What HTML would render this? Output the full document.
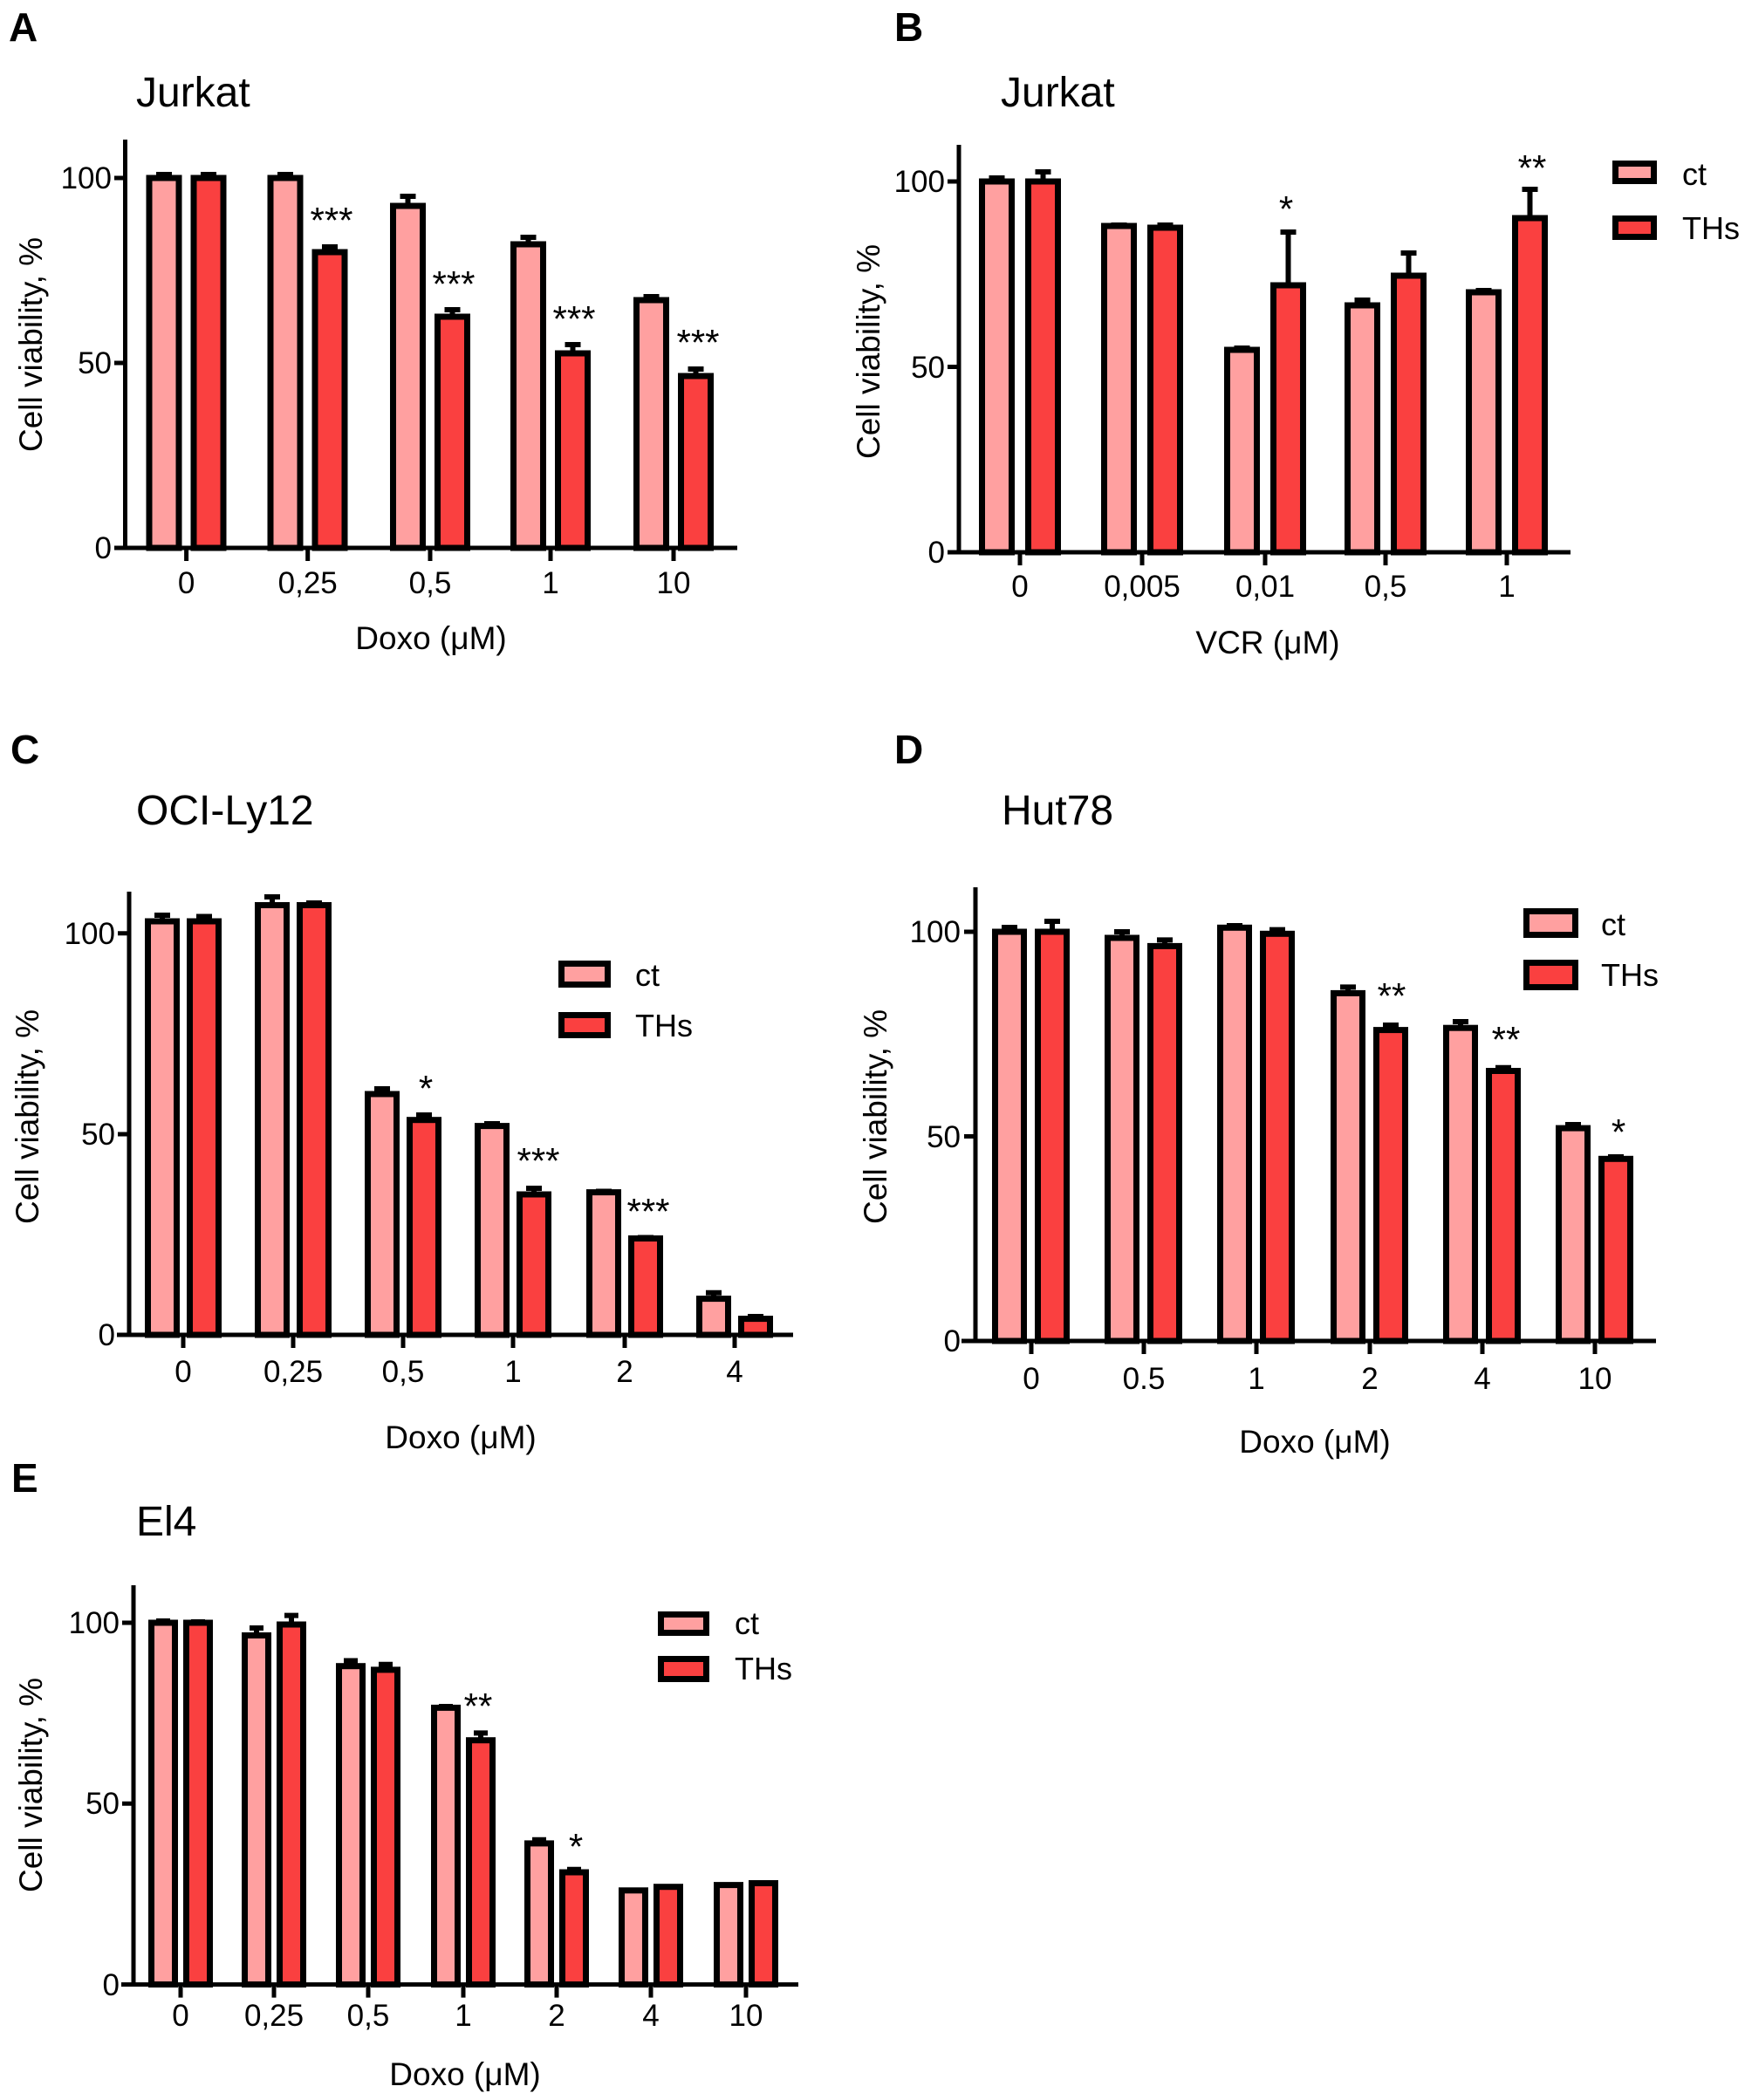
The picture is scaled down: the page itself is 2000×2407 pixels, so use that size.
<!DOCTYPE html>
<html><head><meta charset="utf-8"><style>
html,body{margin:0;padding:0;background:#fff}
svg{display:block}
text{font-family:"Liberation Sans",Arial,sans-serif;fill:#000}
.c{fill:#ffa0a0;stroke:#000;stroke-width:7}
.t{fill:#fa4040;stroke:#000;stroke-width:7}
.e{stroke:#000;stroke-width:6;fill:none}
.ax{stroke:#000;stroke-width:5;fill:none}
.tk{font-size:35px}
.ti{font-size:48px}
.lt{font-size:46px;font-weight:bold}
.xl{font-size:37px}
.lg{font-size:36px}
.st{font-size:42px}
</style></head><body>
<svg width="2000" height="2407" viewBox="0 0 2000 2407" xmlns="http://www.w3.org/2000/svg">

<!-- ================= A ================= -->
<text class="lt" x="10" y="47">A</text>
<text class="ti" x="156" y="122">Jurkat</text>
<path class="ax" d="M143.5 160V628M131 628H845M143.5 204H131M143.5 416H131M213.6 628v15M352.7 628v15M493 628v15M631 628v15M772 628v15"/>
<g class="tk" text-anchor="end"><text x="128" y="216">100</text><text x="128" y="428">50</text><text x="128" y="640">0</text></g>
<g class="tk" text-anchor="middle"><text x="213.6" y="680">0</text><text x="352.7" y="680">0,25</text><text x="493" y="680">0,5</text><text x="631" y="680">1</text><text x="772" y="680">10</text></g>
<text class="xl" x="494" y="744" text-anchor="middle">Doxo (μM)</text>
<text class="xl" transform="translate(48,395) rotate(-90)" text-anchor="middle">Cell viability, %</text>
<path class="e" d="M188 204V200M179 200h18M327 204V200M318 200h18M467.5 236V225M458.5 225h18M605.5 280V272M596.5 272h18M746.5 344V340M737.5 340h18M239 204V200M230 200h18M378 289V283M369 283h18M518.5 363V355M509.5 355h18M656.5 405V395M647.5 395h18M797.5 431V423M788.5 423h18"/>
<rect class="c" x="171" y="204" width="34" height="424"/>
<rect class="c" x="310" y="204" width="34" height="424"/>
<rect class="c" x="450.5" y="236" width="34" height="392"/>
<rect class="c" x="588.5" y="280" width="34" height="348"/>
<rect class="c" x="729.5" y="344" width="34" height="284"/>
<rect class="t" x="222" y="204" width="34" height="424"/>
<rect class="t" x="361" y="289" width="34" height="339"/>
<rect class="t" x="501.5" y="363" width="34" height="265"/>
<rect class="t" x="639.5" y="405" width="34" height="223"/>
<rect class="t" x="780.5" y="431" width="34" height="197"/>
<g class="st" text-anchor="middle"><text x="380" y="267">***</text><text x="520" y="340">***</text><text x="658" y="380">***</text><text x="800" y="407">***</text></g>

<!-- ================= B ================= -->
<text class="lt" x="1025" y="47">B</text>
<text class="ti" x="1147" y="122">Jurkat</text>
<path class="ax" d="M1099 166V633M1086 633H1800M1099 208H1086M1099 420.5H1086M1169 633v15M1309 633v15M1450 633v15M1588 633v15M1727 633v15"/>
<g class="tk" text-anchor="end"><text x="1083" y="220">100</text><text x="1083" y="433">50</text><text x="1083" y="645">0</text></g>
<g class="tk" text-anchor="middle"><text x="1169" y="684">0</text><text x="1309" y="684">0,005</text><text x="1450" y="684">0,01</text><text x="1588" y="684">0,5</text><text x="1727" y="684">1</text></g>
<text class="xl" x="1453" y="749" text-anchor="middle">VCR (μM)</text>
<text class="xl" transform="translate(1008,403) rotate(-90)" text-anchor="middle">Cell viability, %</text>
<path class="e" d="M1142.5 208V204M1133.5 204h18M1282.5 259V258M1273.5 258h18M1423.5 401V399M1414.5 399h18M1561.5 350V344M1552.5 344h18M1700.5 335V333M1691.5 333h18M1195.5 208V197M1186.5 197h18M1335.5 261V258M1326.5 258h18M1476.5 327V266M1467.5 266h18M1614.5 316V290M1605.5 290h18M1753.5 250V217M1744.5 217h18"/>
<rect class="c" x="1125.5" y="208" width="34" height="425"/>
<rect class="c" x="1265.5" y="259" width="34" height="374"/>
<rect class="c" x="1406.5" y="401" width="34" height="232"/>
<rect class="c" x="1544.5" y="350" width="34" height="283"/>
<rect class="c" x="1683.5" y="335" width="34" height="298"/>
<rect class="t" x="1178.5" y="208" width="34" height="425"/>
<rect class="t" x="1318.5" y="261" width="34" height="372"/>
<rect class="t" x="1459.5" y="327" width="34" height="306"/>
<rect class="t" x="1597.5" y="316" width="34" height="317"/>
<rect class="t" x="1736.5" y="250" width="34" height="383"/>
<g class="st" text-anchor="middle"><text x="1474" y="254">*</text><text x="1756" y="207">**</text></g>
<rect class="c" x="1851.5" y="187.5" width="44" height="20"/>
<rect class="t" x="1851.5" y="250.5" width="44" height="21"/>
<g class="lg"><text x="1928" y="212">ct</text><text x="1928" y="274">THs</text></g>

<!-- ================= C ================= -->
<text class="lt" x="12" y="875">C</text>
<text class="ti" x="156" y="945">OCI-Ly12</text>
<path class="ax" d="M148 1022V1530M134 1530H909M148 1069.7H135M148 1300H135M210 1530v15M336 1530v15M462 1530v15M588 1530v15M716 1530v15M842 1530v15"/>
<g class="tk" text-anchor="end"><text x="132" y="1082">100</text><text x="132" y="1312">50</text><text x="132" y="1542">0</text></g>
<g class="tk" text-anchor="middle"><text x="210" y="1584">0</text><text x="336" y="1584">0,25</text><text x="462" y="1584">0,5</text><text x="588" y="1584">1</text><text x="716" y="1584">2</text><text x="842" y="1584">4</text></g>
<text class="xl" x="528" y="1660" text-anchor="middle">Doxo (μM)</text>
<text class="xl" transform="translate(44,1280) rotate(-90)" text-anchor="middle">Cell viability, %</text>
<path class="e" d="M186 1056V1049M177 1049h18M312 1037.5V1028M303 1028h18M438 1254V1248M429 1248h18M564 1290.6V1288M555 1288h18M692 1366.6V1365.5M683 1365.5h18M818 1488.6V1481.7M809 1481.7h18M234 1056V1050.5M225 1050.5h18M360 1037.5V1035M351 1035h18M486 1283.7V1278M477 1278h18M612 1369V1362M603 1362h18M740 1419.5V1418.5M731 1418.5h18M866 1511.6V1509M857 1509h18"/>
<rect class="c" x="169.5" y="1056" width="33" height="474"/>
<rect class="c" x="295.5" y="1037.5" width="33" height="492.5"/>
<rect class="c" x="421.5" y="1254" width="33" height="276"/>
<rect class="c" x="547.5" y="1290.6" width="33" height="239.4"/>
<rect class="c" x="675.5" y="1366.6" width="33" height="163.4"/>
<rect class="c" x="801.5" y="1488.6" width="33" height="41.4"/>
<rect class="t" x="217.5" y="1056" width="33" height="474"/>
<rect class="t" x="343.5" y="1037.5" width="33" height="492.5"/>
<rect class="t" x="469.5" y="1283.7" width="33" height="246.3"/>
<rect class="t" x="595.5" y="1369" width="33" height="161"/>
<rect class="t" x="723.5" y="1419.5" width="33" height="110.5"/>
<rect class="t" x="849.5" y="1511.6" width="33" height="18.4"/>
<g class="st" text-anchor="middle"><text x="488" y="1262">*</text><text x="617" y="1345">***</text><text x="743" y="1403">***</text></g>
<rect class="c" x="643.5" y="1104.5" width="53" height="24"/>
<rect class="t" x="643.5" y="1163.5" width="53" height="23"/>
<g class="lg"><text x="728" y="1130">ct</text><text x="728" y="1188">THs</text></g>

<!-- ================= D ================= -->
<text class="lt" x="1025" y="875">D</text>
<text class="ti" x="1148" y="945">Hut78</text>
<path class="ax" d="M1118 1017V1537M1102 1537H1898M1118 1068H1105M1118 1302.5H1105M1182 1537v15M1311 1537v15M1440 1537v15M1570 1537v15M1699 1537v15M1828 1537v15"/>
<g class="tk" text-anchor="end"><text x="1101" y="1080">100</text><text x="1101" y="1315">50</text><text x="1101" y="1549">0</text></g>
<g class="tk" text-anchor="middle"><text x="1182" y="1592">0</text><text x="1311" y="1592">0.5</text><text x="1440" y="1592">1</text><text x="1570" y="1592">2</text><text x="1699" y="1592">4</text><text x="1828" y="1592">10</text></g>
<text class="xl" x="1507" y="1665" text-anchor="middle">Doxo (μM)</text>
<text class="xl" transform="translate(1016,1280) rotate(-90)" text-anchor="middle">Cell viability, %</text>
<path class="e" d="M1157 1068V1063M1148 1063h18M1286 1075V1068M1277 1068h18M1415 1063.3V1061M1406 1061h18M1545 1138.4V1131.4M1536 1131.4h18M1674 1178.2V1171M1665 1171h18M1803 1293V1289M1794 1289h18M1206 1068V1056M1197 1056h18M1335 1084.4V1077.4M1326 1077.4h18M1464 1070.3V1065.6M1455 1065.6h18M1594 1180.6V1175M1585 1175h18M1723 1227.5V1223.7M1714 1223.7h18M1852 1328.3V1326M1843 1326h18"/>
<rect class="c" x="1140.5" y="1068" width="33" height="469"/>
<rect class="c" x="1269.5" y="1075" width="33" height="462"/>
<rect class="c" x="1398.5" y="1063.3" width="33" height="473.7"/>
<rect class="c" x="1528.5" y="1138.4" width="33" height="398.6"/>
<rect class="c" x="1657.5" y="1178.2" width="33" height="358.8"/>
<rect class="c" x="1786.5" y="1293.1" width="33" height="243.9"/>
<rect class="t" x="1189.5" y="1068" width="33" height="469"/>
<rect class="t" x="1318.5" y="1084.4" width="33" height="452.6"/>
<rect class="t" x="1447.5" y="1070.3" width="33" height="466.7"/>
<rect class="t" x="1577.5" y="1180.6" width="33" height="356.4"/>
<rect class="t" x="1706.5" y="1227.5" width="33" height="309.5"/>
<rect class="t" x="1835.5" y="1328.3" width="33" height="208.7"/>
<g class="st" text-anchor="middle"><text x="1595" y="1156">**</text><text x="1726" y="1206">**</text><text x="1855" y="1312">*</text></g>
<rect class="c" x="1749.5" y="1044.5" width="56" height="27"/>
<rect class="t" x="1749.5" y="1103.5" width="56" height="28"/>
<g class="lg"><text x="1835" y="1072">ct</text><text x="1835" y="1130">THs</text></g>

<!-- ================= E ================= -->
<text class="lt" x="13" y="1710">E</text>
<text class="ti" x="156" y="1760">El4</text>
<path class="ax" d="M153 1817V2274.6M139 2274.6H915M153 1860H140M153 2067.3H140M207 2274.6v15M314 2274.6v15M422 2274.6v15M531 2274.6v15M638 2274.6v15M746 2274.6v15M855 2274.6v15"/>
<g class="tk" text-anchor="end"><text x="137" y="1872">100</text><text x="137" y="2079">50</text><text x="137" y="2287">0</text></g>
<g class="tk" text-anchor="middle"><text x="207" y="2322">0</text><text x="314" y="2322">0,25</text><text x="422" y="2322">0,5</text><text x="531" y="2322">1</text><text x="638" y="2322">2</text><text x="746" y="2322">4</text><text x="855" y="2322">10</text></g>
<text class="xl" x="533" y="2390" text-anchor="middle">Doxo (μM)</text>
<text class="xl" transform="translate(48,2046) rotate(-90)" text-anchor="middle">Cell viability, %</text>
<path class="e" d="M187 1860V1858M179 1858h16M294 1874.5V1866M286 1866h16M402 1909.7V1903.5M394 1903.5h16M511 1957.4V1956M503 1956h16M618 2112.9V2108.7M610 2108.7h16M227 1860V1859M219 1859h16M334 1862V1851.6M326 1851.6h16M442 1913.9V1907.7M434 1907.7h16M551 1994.7V1986.4M543 1986.4h16M658 2146V2142.7M650 2142.7h16"/>
<rect class="c" x="173.5" y="1860" width="27" height="414.6"/>
<rect class="c" x="280.5" y="1874.5" width="27" height="400.1"/>
<rect class="c" x="388.5" y="1909.7" width="27" height="364.9"/>
<rect class="c" x="497.5" y="1957.4" width="27" height="317.2"/>
<rect class="c" x="604.5" y="2112.9" width="27" height="161.7"/>
<rect class="c" x="712.5" y="2166.8" width="27" height="107.8"/>
<rect class="c" x="821.5" y="2160.6" width="27" height="114"/>
<rect class="t" x="213.5" y="1860" width="27" height="414.6"/>
<rect class="t" x="320.5" y="1862" width="27" height="412.6"/>
<rect class="t" x="428.5" y="1913.9" width="27" height="360.7"/>
<rect class="t" x="537.5" y="1994.7" width="27" height="279.9"/>
<rect class="t" x="644.5" y="2146" width="27" height="128.6"/>
<rect class="t" x="752.5" y="2162.7" width="27" height="111.9"/>
<rect class="t" x="861.5" y="2158.5" width="27" height="116.1"/>
<g class="st" text-anchor="middle"><text x="548" y="1970">**</text><text x="660" y="2131">*</text></g>
<rect class="c" x="757.5" y="1850.5" width="52" height="21"/>
<rect class="t" x="757.5" y="1901.5" width="52" height="23"/>
<g class="lg"><text x="842" y="1873">ct</text><text x="842" y="1925">THs</text></g>
</svg>
</body></html>
